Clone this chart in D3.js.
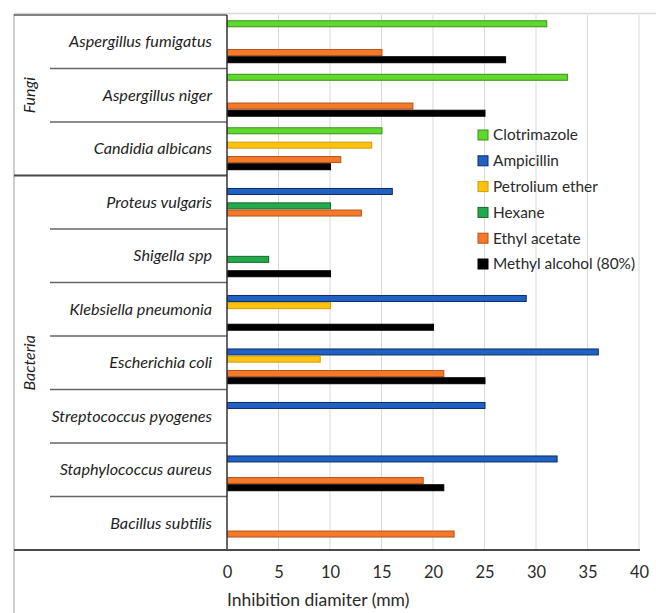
<!DOCTYPE html>
<html>
<head>
<meta charset="utf-8">
<script src="https://cdn.jsdelivr.net/npm/d3@7"></script>
<style>
  body { margin: 0; background: #fff; }
  svg { display: block; font-family: Lato, "Noto Sans", sans-serif; }
</style>
</head>
<body>
<svg width="656" height="613"></svg>
<script>
// organisms, top to bottom
var organisms = ['Aspergillus fumigatus', 'Aspergillus niger', 'Candidia albicans',
  'Proteus vulgaris', 'Shigella spp', 'Klebsiella pneumonia', 'Escherichia coli',
  'Streptococcus pyogenes', 'Staphylococcus aureus', 'Bacillus subtilis']

var groups = [
  { name: 'Fungi', first: 'Aspergillus fumigatus', last: 'Candidia albicans' },
  { name: 'Bacteria', first: 'Proteus vulgaris', last: 'Bacillus subtilis' }
]

var series_names = ['Clotrimazole', 'Ampicillin', 'Petrolium ether', 'Hexane',
  'Ethyl acetate', 'Methyl alcohol (80%)']

// one value per organism, null = no bar
var clotrimazole = [31, 33, 15, null, null, null, null, null, null, null]
var ampicillin   = [null, null, null, 16, null, 29, 36, 25, 32, null]
var petrolium    = [null, null, 14, null, null, 10, 9, null, null, null]
var hexane       = [null, null, null, 10, 4, null, null, null, null, null]
var ethyl        = [15, 18, 11, 13, null, null, 21, null, 19, 22]
var methyl       = [27, 25, 10, null, 10, 20, 25, null, 21, null]

var x_ticks = [0, 5, 10, 15, 20, 25, 30, 35, 40]

var fills   = ['#5fd92b', '#1f62c4', '#ffc20e', '#22a94a', '#f47a2a', '#000000']
var strokes = ['#3b8f1c', '#0c2c63', '#d49e00', '#136a2b', '#b5521a', '#000000']

var all_values = [clotrimazole, ampicillin, petrolium, hexane, ethyl, methyl]

var svg = d3.select('svg')
var plot_left = 227, plot_right = 639, plot_top = 15, plot_bottom = 550

var x = d3.scaleLinear().domain([0, 40]).range([plot_left, plot_right])
var y = d3.scaleBand().domain(organisms).range([plot_top, plot_bottom])
var y_inner = d3.scaleBand().domain(series_names)
  .range([0, y.bandwidth()]).paddingOuter(0.72)

// outer frame (top and left only)
svg.append('line').attr('x1', 14).attr('x2', 656).attr('y1', 13.5).attr('y2', 13.5)
  .attr('stroke', '#d8d8d8').attr('stroke-width', 1.5)
svg.append('line').attr('x1', 14).attr('x2', 14).attr('y1', 14).attr('y2', 613)
  .attr('stroke', '#bdbdbd').attr('stroke-width', 1.5)

// grid
svg.append('g').selectAll('line').data(x_ticks.slice(1))
  .enter().append('line')
    .attr('x1', (d) => x(d)).attr('x2', (d) => x(d))
    .attr('y1', plot_top).attr('y2', plot_bottom)
    .attr('stroke', '#d9d9d9').attr('stroke-width', 1)

// bars
series_names.forEach((name, si) => {
  var rows = organisms.map((o, i) => ({ organism: o, value: all_values[si][i] }))
    .filter((d) => d.value !== null)
  svg.append('g').selectAll('rect').data(rows)
    .enter().append('rect')
      .attr('x', x(0) + 0.5)
      .attr('y', (d) => y(d.organism) + y_inner(name) + 0.6)
      .attr('width', (d) => x(d.value) - x(0))
      .attr('height', y_inner.bandwidth() - 1.2)
      .attr('fill', fills[si])
      .attr('stroke', strokes[si])
      .attr('stroke-width', 1)
})

// label table separators
var seps = organisms.slice(1).map((o) => ({
  y: y(o),
  group_edge: groups.some((g) => g.first === o)
}))
svg.append('g').selectAll('line').data(seps)
  .enter().append('line')
    .attr('x1', (d) => d.group_edge ? 14 : 50).attr('x2', plot_left)
    .attr('y1', (d) => d.y).attr('y2', (d) => d.y)
    .attr('stroke', (d) => d.group_edge ? '#4a4a4a' : '#666')
    .attr('stroke-width', (d) => d.group_edge ? 2 : 1.5)

svg.append('line').attr('x1', 14).attr('x2', plot_left).attr('y1', plot_top).attr('y2', plot_top)
  .attr('stroke', '#5a5a5a').attr('stroke-width', 1.5)

// y axis line
svg.append('line').attr('x1', plot_left).attr('x2', plot_left)
  .attr('y1', plot_top).attr('y2', plot_bottom)
  .attr('stroke', '#333').attr('stroke-width', 1.5)

// x axis
var x_axis = svg.append('g')
  .attr('transform', 'translate(0,' + plot_bottom + ')')
  .call(d3.axisBottom(x).tickValues(x_ticks).tickSize(0).tickPadding(16))
x_axis.select('.domain').remove()
x_axis.selectAll('text')
  .attr('font-size', 16.5).attr('fill', '#2a2a2a')
  .attr('font-family', 'Lato, "Noto Sans", sans-serif')

svg.append('line').attr('x1', 14).attr('x2', plot_right + 1)
  .attr('y1', plot_bottom).attr('y2', plot_bottom)
  .attr('stroke', '#4a4a4a').attr('stroke-width', 2)

svg.append('text')
  .attr('x', plot_left).attr('y', 606)
  .attr('font-size', 17.5).attr('fill', '#2a2a2a')
  .text('Inhibition diamiter (mm)')

// organism labels
svg.append('g').selectAll('text').data(organisms)
  .enter().append('text')
    .attr('x', 212)
    .attr('y', (d) => y(d) + y.bandwidth() / 2)
    .attr('dy', '0.35em')
    .attr('text-anchor', 'end')
    .attr('font-style', 'italic')
    .attr('font-size', 16.2)
    .attr('fill', '#1e1e1e')
    .text((d) => d)

// group labels
svg.append('g').selectAll('text').data(groups)
  .enter().append('text')
    .attr('transform', (g) => {
      var cy = (y(g.first) + y(g.last) + y.bandwidth()) / 2
      return 'translate(29,' + cy + ') rotate(-90)'
    })
    .attr('dy', '0.35em')
    .attr('text-anchor', 'middle')
    .attr('font-style', 'italic')
    .attr('font-size', 16)
    .attr('fill', '#1e1e1e')
    .text((g) => g.name)

// legend
var legend = svg.append('g').selectAll('g').data(series_names)
  .enter().append('g')
    .attr('transform', (d, i) => 'translate(478,' + (135 + i * 25.8) + ')')
legend.append('rect')
  .attr('x', 0).attr('y', -5).attr('width', 10).attr('height', 10)
  .attr('fill', (d, i) => fills[i])
  .attr('stroke', (d, i) => strokes[i])
legend.append('text')
  .attr('x', 15).attr('dy', '0.35em')
  .attr('font-size', 15.4).attr('fill', '#2a2a2a')
  .text((d) => d)
</script>
</body>
</html>
